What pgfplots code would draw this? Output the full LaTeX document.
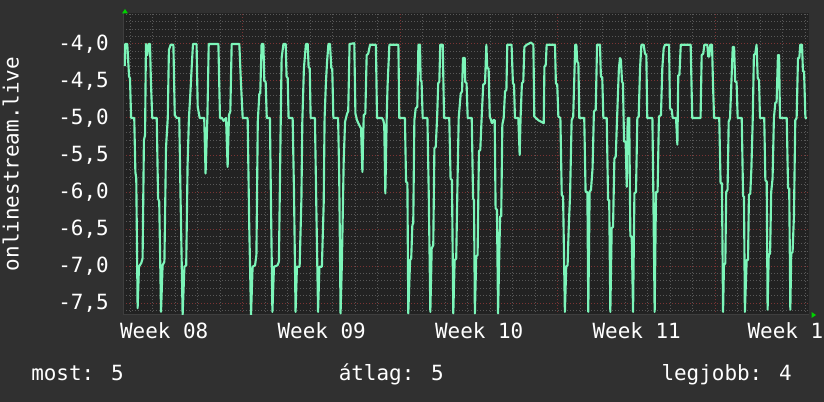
\documentclass[border=0pt]{standalone}
\usepackage{fontspec}
\setmainfont{DejaVu Sans Mono}
\usepackage{pgfplots}
\pgfplotsset{compat=1.18}

\definecolor{canvas}{RGB}{48,48,48}
\definecolor{plotbg}{RGB}{34,34,34}
\definecolor{gridminor}{RGB}{88,88,88}
\definecolor{gridmajor}{RGB}{122,52,52}
\definecolor{mint}{RGB}{124,245,185}
\definecolor{arrowgreen}{RGB}{0,210,0}
\definecolor{axisgray}{RGB}{62,62,62}

\newcommand{\lbl}{\fontsize{15.7}{19}\selectfont}

\begin{document}
\begin{tikzpicture}[x=0.75pt,y=0.75pt]
\fill[canvas] (0,0) rectangle (824,402);
\path[use as bounding box] (0,0) rectangle (824,402);
\begin{axis}[
    at={(92.25pt,65.25pt)}, anchor=south west,
    scale only axis, width=514.5pt, height=226.5pt,
    xmin=0, xmax=30.49, ymin=-7.662, ymax=-3.581,
    axis background/.style={fill=plotbg},
    axis x line*=bottom, axis y line*=left,
    axis line style={axisgray, line width=0.75pt},
    xtick={5.333,12.333,19.333,26.333}, xticklabels={},
    minor xtick={0.333,1.333,...,30.4},
    ytick={-7.5,-7,...,-4}, minor ytick={-7.6,-7.5,...,-3.55},
    grid=both,
    major grid style={gridmajor, line width=0.75pt, dash pattern=on 0.75pt off 1.5pt},
    minor grid style={gridminor, line width=0.75pt, dash pattern=on 0.75pt off 1.5pt},
    tick style={draw=none},
    extra x ticks={1.833,8.833,15.833,22.833,29.44},
    extra x tick labels={Week 08,Week 09,Week 10,Week 11,Week 1},
    extra x tick style={grid=none},
    xticklabel style={font=\lbl, text=white, anchor=base, yshift=-17.6pt},
    yticklabel style={font=\lbl, text=white, anchor=east, inner sep=0pt, xshift=-10.5pt},
    /pgf/number format/use comma,
    /pgf/number format/fixed,
    /pgf/number format/fixed zerofill,
    /pgf/number format/precision=1,
    /pgf/number format/assume math mode=true,
]
\addplot[mint, line width=1.6pt, line join=round] coordinates {
(0.08,-4.30) (0.10,-4.00) (0.19,-4.00) (0.27,-4.44) (0.31,-4.46) (0.36,-5.00)
(0.50,-5.00) (0.55,-5.73) (0.59,-5.82) (0.65,-7.57) (0.71,-7.01) (0.81,-6.96)
(0.87,-6.90) (0.93,-5.30) (0.98,-5.23) (1.02,-4.00) (1.08,-4.15) (1.14,-4.00)
(1.20,-4.00) (1.24,-4.50) (1.30,-5.00) (1.50,-5.00) (1.56,-6.09) (1.61,-6.13)
(1.69,-7.62) (1.76,-6.99) (1.84,-6.94) (1.88,-6.09) (1.91,-5.41) (1.99,-5.00)
(2.04,-4.08) (2.12,-4.01) (2.24,-4.01) (2.30,-4.96) (2.39,-5.00) (2.50,-5.00)
(2.56,-6.11) (2.65,-7.66) (2.73,-7.01) (2.81,-6.99) (2.87,-5.64) (2.93,-5.00)
(2.99,-4.69) (3.05,-4.33) (3.11,-4.00) (3.27,-4.00) (3.32,-4.85) (3.41,-5.00)
(3.61,-5.00) (3.67,-5.75) (3.75,-5.00) (3.81,-4.00) (4.24,-4.00) (4.31,-5.00)
(4.40,-5.00) (4.47,-5.04) (4.58,-5.00) (4.65,-5.66) (4.71,-4.96) (4.77,-4.91)
(4.83,-4.00) (5.17,-4.00) (5.24,-4.51) (5.32,-5.00) (5.54,-5.00) (5.61,-6.45)
(5.69,-7.66) (5.76,-7.01) (5.87,-6.99) (5.93,-6.85) (5.99,-5.05) (6.06,-4.67)
(6.10,-4.67) (6.16,-4.00) (6.24,-4.00) (6.28,-4.50) (6.34,-4.51) (6.39,-5.00)
(6.53,-5.00) (6.58,-6.22) (6.64,-7.62) (6.71,-7.01) (6.87,-6.99) (6.93,-6.94)
(7.01,-5.05) (7.05,-4.19) (7.13,-4.00) (7.23,-4.00) (7.27,-4.44) (7.32,-4.46)
(7.36,-5.00) (7.54,-5.00) (7.60,-6.00) (7.67,-7.62) (7.73,-7.01) (7.85,-7.01)
(7.93,-6.09) (7.97,-5.05) (8.04,-4.33) (8.13,-4.00) (8.21,-4.00) (8.25,-4.31)
(8.30,-4.33) (8.34,-5.00) (8.53,-5.00) (8.59,-6.15) (8.67,-7.62) (8.73,-7.01)
(8.84,-7.01) (8.92,-6.15) (8.96,-5.00) (9.02,-4.51) (9.07,-4.24) (9.13,-4.00)
(9.20,-4.00) (9.26,-4.33) (9.30,-4.33) (9.35,-5.00) (9.56,-5.00) (9.61,-5.79)
(9.67,-7.64) (9.73,-6.94) (9.81,-5.57) (9.87,-5.05) (9.96,-4.94) (10.01,-4.91)
(10.07,-4.00) (10.28,-3.99) (10.33,-4.94) (10.40,-5.03) (10.49,-5.09) (10.58,-5.14)
(10.64,-5.73) (10.70,-4.96) (10.77,-4.94) (10.83,-4.15) (10.90,-4.13) (10.98,-4.01)
(11.24,-4.01) (11.29,-5.00) (11.51,-5.00) (11.57,-5.03) (11.61,-5.09) (11.66,-6.02)
(11.72,-5.00) (11.76,-4.55) (11.84,-4.01) (12.09,-4.01) (12.24,-4.01) (12.28,-5.00)
(12.53,-5.00) (12.58,-5.86) (12.64,-5.88) (12.68,-7.64) (12.76,-6.92) (12.81,-6.90)
(12.86,-6.45) (12.90,-6.42) (12.95,-5.03) (13.01,-4.87) (13.08,-4.85) (13.13,-4.01)
(13.20,-4.01) (13.23,-4.49) (13.27,-4.51) (13.32,-5.00) (13.53,-5.00) (13.59,-6.04)
(13.66,-7.62) (13.72,-6.76) (13.79,-6.72) (13.84,-5.41) (13.90,-5.39) (13.96,-5.00)
(14.01,-4.53) (14.06,-4.51) (14.10,-4.01) (14.21,-4.01) (14.27,-5.00) (14.50,-5.00)
(14.56,-5.82) (14.62,-5.84) (14.68,-7.64) (14.74,-6.92) (14.81,-6.90) (14.87,-5.82)
(14.92,-5.00) (15.01,-4.67) (15.07,-4.64) (15.11,-4.19) (15.19,-4.19) (15.21,-4.51)
(15.27,-4.53) (15.32,-5.00) (15.50,-5.00) (15.56,-6.09) (15.60,-6.11) (15.64,-7.64)
(15.70,-6.87) (15.76,-6.85) (15.82,-5.45) (15.88,-5.43) (15.94,-5.00) (16.01,-4.55)
(16.09,-4.53) (16.15,-4.01) (16.19,-4.33) (16.25,-4.33) (16.30,-4.98) (16.36,-5.03)
(16.40,-5.07) (16.46,-5.03) (16.52,-5.03) (16.56,-6.22) (16.62,-6.24) (16.67,-7.64)
(16.76,-6.33) (16.81,-6.33) (16.86,-5.09) (16.92,-5.00) (16.98,-4.64) (17.04,-4.62)
(17.08,-4.01) (17.27,-4.01) (17.33,-4.53) (17.38,-4.55) (17.42,-5.00) (17.57,-5.00)
(17.63,-5.50) (17.67,-5.00) (17.73,-4.53) (17.79,-4.51) (17.84,-4.04) (17.94,-4.01)
(18.01,-4.00) (18.13,-3.98) (18.24,-4.01) (18.28,-4.98) (18.46,-5.03) (18.64,-5.06)
(18.70,-5.07) (18.73,-4.31) (18.79,-4.28) (18.83,-4.01) (19.20,-4.01) (19.24,-4.53)
(19.30,-4.55) (19.35,-4.98) (19.44,-5.00) (19.50,-6.04) (19.56,-6.06) (19.64,-7.62)
(19.70,-7.01) (19.76,-6.99) (19.81,-6.49) (19.87,-6.04) (19.94,-5.03) (20.01,-4.98)
(20.10,-4.01) (20.15,-4.01) (20.19,-4.24) (20.24,-4.26) (20.28,-5.00) (20.50,-5.00)
(20.56,-6.00) (20.64,-6.00) (20.68,-7.62) (20.74,-6.00) (20.80,-5.97) (20.87,-5.68)
(20.93,-4.91) (21.01,-4.89) (21.07,-4.01) (21.20,-4.01) (21.24,-4.44) (21.30,-4.45)
(21.35,-5.00) (21.50,-5.00) (21.56,-6.11) (21.61,-6.11) (21.66,-7.62) (21.72,-6.49)
(21.78,-6.47) (21.84,-5.55) (21.90,-5.52) (21.96,-5.00) (22.04,-4.33) (22.09,-4.19)
(22.13,-4.22) (22.18,-4.51) (22.22,-4.53) (22.27,-5.32) (22.34,-5.32) (22.39,-5.93)
(22.43,-5.00) (22.50,-5.00) (22.55,-6.60) (22.61,-6.60) (22.67,-7.62) (22.73,-6.02)
(22.80,-6.00) (22.86,-5.00) (22.92,-4.98) (22.98,-4.33) (23.04,-4.01) (23.14,-4.01)
(23.20,-4.13) (23.26,-4.15) (23.30,-5.00) (23.53,-5.00) (23.57,-6.00) (23.63,-7.62)
(23.69,-6.00) (23.76,-6.00) (23.82,-4.98) (23.91,-4.96) (23.97,-4.33) (24.03,-4.06)
(24.09,-4.01) (24.27,-4.01) (24.31,-4.87) (24.39,-4.89) (24.43,-5.00) (24.58,-5.00)
(24.64,-5.36) (24.68,-4.42) (24.73,-4.42) (24.79,-4.01) (25.23,-4.01) (25.30,-5.00)
(25.67,-5.00) (25.72,-4.15) (25.79,-4.13) (25.84,-4.01) (25.97,-4.01) (26.01,-4.17)
(26.06,-4.17) (26.10,-4.01) (26.18,-4.01) (26.22,-4.51) (26.27,-5.00) (26.50,-5.00)
(26.56,-5.88) (26.62,-5.88) (26.67,-7.62) (26.71,-6.99) (26.77,-6.96) (26.81,-6.00)
(26.87,-5.97) (26.92,-5.05) (26.98,-5.00) (27.10,-4.04) (27.16,-4.04) (27.21,-4.51)
(27.27,-4.51) (27.32,-5.00) (27.50,-5.00) (27.56,-6.06) (27.60,-6.06) (27.64,-7.62)
(27.72,-6.92) (27.78,-6.92) (27.82,-6.04) (27.88,-6.02) (27.93,-5.68) (27.99,-5.00)
(28.04,-4.15) (28.10,-4.13) (28.16,-4.01) (28.21,-4.46) (28.27,-4.49) (28.31,-5.00)
(28.50,-5.00) (28.55,-5.84) (28.61,-5.86) (28.65,-7.59) (28.70,-6.85) (28.76,-6.83)
(28.81,-6.00) (28.87,-5.82) (28.93,-5.00) (28.99,-4.80) (29.05,-4.78) (29.11,-4.15)
(29.16,-4.15) (29.20,-5.00) (29.50,-5.00) (29.56,-5.95) (29.61,-5.95) (29.66,-7.59)
(29.70,-6.83) (29.76,-6.81) (29.82,-6.33) (29.88,-5.03) (29.94,-5.00) (30.00,-4.19)
(30.06,-4.19) (30.10,-4.01) (30.18,-4.01) (30.22,-4.37) (30.27,-4.37) (30.33,-5.00)
(30.39,-5.00)
};
\end{axis}
% arrows at the ends of the axes
\fill[arrowgreen] (125,393) -- (122,388.5) -- (128,388.5) -- cycle;
\fill[arrowgreen] (816,87) -- (811.5,90) -- (811.5,84) -- cycle;
% axis title and legend line
\node[rotate=90, anchor=base, inner sep=0pt, text=white, font=\lbl] at (18.5,238) {onlinestream.live};
\node[anchor=base west, inner sep=0pt, text=white, font=\lbl] at (31,21) {most: 5};
\node[anchor=base west, inner sep=0pt, text=white, font=\lbl] at (338.5,21) {átlag: 5};
\node[anchor=base east, inner sep=0pt, text=white, font=\lbl] at (792,21) {legjobb: 4};
\end{tikzpicture}
\end{document}
